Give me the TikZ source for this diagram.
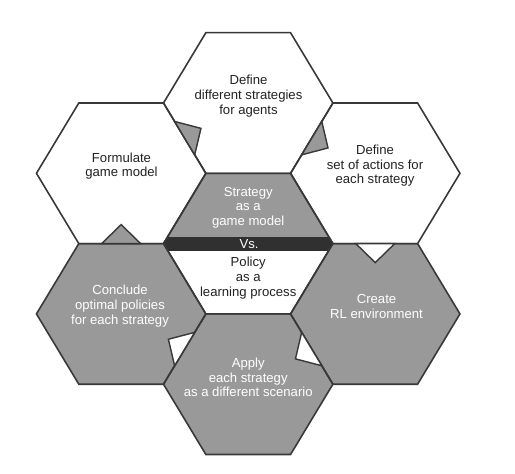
\documentclass[tikz,border=0pt]{standalone}
\usepackage{fontspec}
\setmainfont{Liberation Sans}
\definecolor{hexgray}{HTML}{999999}
\definecolor{hexline}{HTML}{383838}
\definecolor{vsband}{HTML}{303030}
\definecolor{darktext}{HTML}{222222}

\begin{document}
\begin{tikzpicture}[x=0.03cm,y=-0.03cm,
    hexedge/.style={draw=hexline,line width=1.35pt,line join=miter},
    notch/.style={draw=hexline,line width=1.2pt,line join=miter},
    hextext/.style={align=center,inner sep=0pt,text=darktext,
        font=\fontsize{11.2}{12.6}\selectfont},
    graytext/.style={hextext,text=white}]
    \useasboundingbox (0,0) rectangle (515,473);
    % cells of the honeycomb
    \foreach \cx/\cy/\col in {248.2/103/white,121.15/173.3/white,375.25/173.3/white,
        248.2/243.6/white,121.15/313.9/hexgray,375.25/313.9/hexgray,248.2/384.2/hexgray}
        \fill[\col] (\cx,\cy) ++(-84.7,0) -- ++(42.35,-70.3) -- ++(84.7,0)
            -- ++(42.35,70.3) -- ++(-42.35,70.3) -- ++(-84.7,0) -- cycle;
    % middle cell: strategy above, policy below
    \begin{scope}
        \clip (248.2,243.6) ++(-84.7,0) -- ++(42.35,-70.3) -- ++(84.7,0)
            -- ++(42.35,70.3) -- ++(-42.35,70.3) -- ++(-84.7,0) -- cycle;
        \fill[hexgray] (150,170) rectangle (350,243.6);
        \fill[vsband] (150,236.8) rectangle (350,250.6);
    \end{scope}
    \foreach \cx/\cy in {248.2/103,121.15/173.3,375.25/173.3,
        248.2/243.6,121.15/313.9,375.25/313.9,248.2/384.2}
        \draw[hexedge] (\cx,\cy) ++(-84.7,0) -- ++(42.35,-70.3) -- ++(84.7,0)
            -- ++(42.35,70.3) -- ++(-42.35,70.3) -- ++(-84.7,0) -- cycle;
    % notches between neighbouring cells
    \filldraw[notch,fill=hexgray] (174.6,121.45) -- (200.95,128.35) -- (194.7,154.85) -- cycle;
    \filldraw[notch,fill=hexgray] (321.8,121.45) -- (328.0,147.95) -- (301.7,154.85) -- cycle;
    \filldraw[notch,fill=white] (355.75,243.6) -- (375.25,262.6) -- (394.75,243.6) -- cycle;
    \filldraw[notch,fill=white] (301.67,332.35) -- (295.45,358.85) -- (321.8,365.75) -- cycle;
    \filldraw[notch,fill=white] (194.7,332.35) -- (168.4,339.25) -- (174.6,365.75) -- cycle;
    \filldraw[notch,fill=hexgray] (101.65,243.6) -- (121.15,224.6) -- (140.65,243.6) -- cycle;
    % labels
    \node[hextext] (strategies) at (248.5,96) {Define\\different strategies\\for agents};
    \node[hextext] (formulate) at (121.5,166) {Formulate\\game model};
    \node[hextext] (actions) at (375,165.7) {Define\\set of actions for\\each strategy};
    \node[graytext] (game) at (248.2,207.7) {Strategy\\as a\\game model};
    \node[hextext,text=white] (vs) at (249,243.6) {Vs.};
    \node[hextext] (learning) at (248.2,278) {Policy\\as a\\learning process};
    \node[graytext] (conclude) at (120,306) {Conclude\\optimal policies\\for each strategy};
    \node[graytext] (create) at (376.5,306.7) {Create\\RL environment};
    \node[graytext] (apply) at (248.2,377.5) {Apply\\each strategy\\as a different scenario};
\end{tikzpicture}
\end{document}
